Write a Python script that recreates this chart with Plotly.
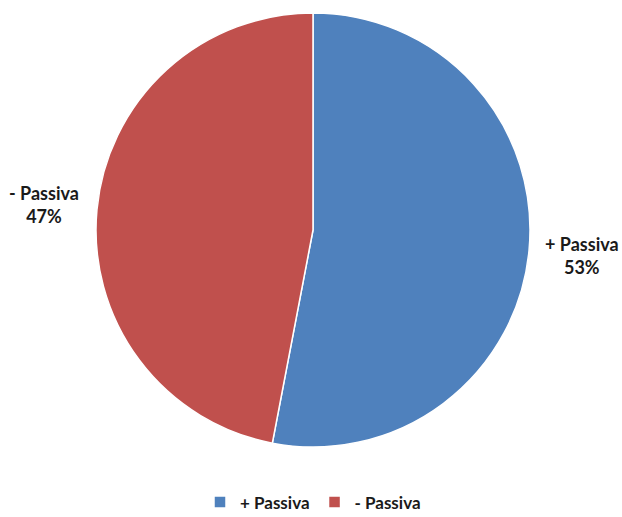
import math
import plotly.graph_objects as go

labels = ["+ Passiva", "- Passiva"]
values = [53, 47]
colors = ["#4F81BD", "#C0504D"]

LABEL_FONT = dict(family="Lato", size=18, color="#1a1a1a", weight="bold")
LEGEND_FONT = dict(family="Lato", size=17, color="#1a1a1a", weight="bold")

fig = go.Figure(go.Pie(
    labels=labels,
    values=values,
    sort=False,
    direction="clockwise",
    rotation=0,
    marker=dict(colors=colors, line=dict(color="white", width=1.5)),
    textinfo="none",
    hoverinfo="label+percent",
))

# outside labels at slice mid-angles (computed from values)
total = sum(values)
cum = 0
annotations = []
r_lab = 0.622
for lab, v in zip(labels, values):
    mid = (cum + v / 2) / total * 2 * math.pi
    cum += v
    annotations.append(dict(
        x=0.5 + r_lab * math.sin(mid), y=0.5 + r_lab * math.cos(mid),
        xref="paper", yref="paper", xanchor="center", yanchor="middle",
        text=f"{lab}<br>{round(v / total * 100)}%", showarrow=False,
        font=LABEL_FONT, align="center",
    ))

fig.update_layout(
    width=622, height=517,
    margin=dict(l=96, r=92, t=13, b=70, autoexpand=False),
    paper_bgcolor="white",
    plot_bgcolor="white",
    showlegend=True,
    annotations=annotations,
    legend=dict(
        orientation="h",
        x=0.5, xanchor="center",
        y=-0.128, yanchor="middle",
        font=LEGEND_FONT,
        itemwidth=30,
    ),
)

fig.write_html("out.html")
